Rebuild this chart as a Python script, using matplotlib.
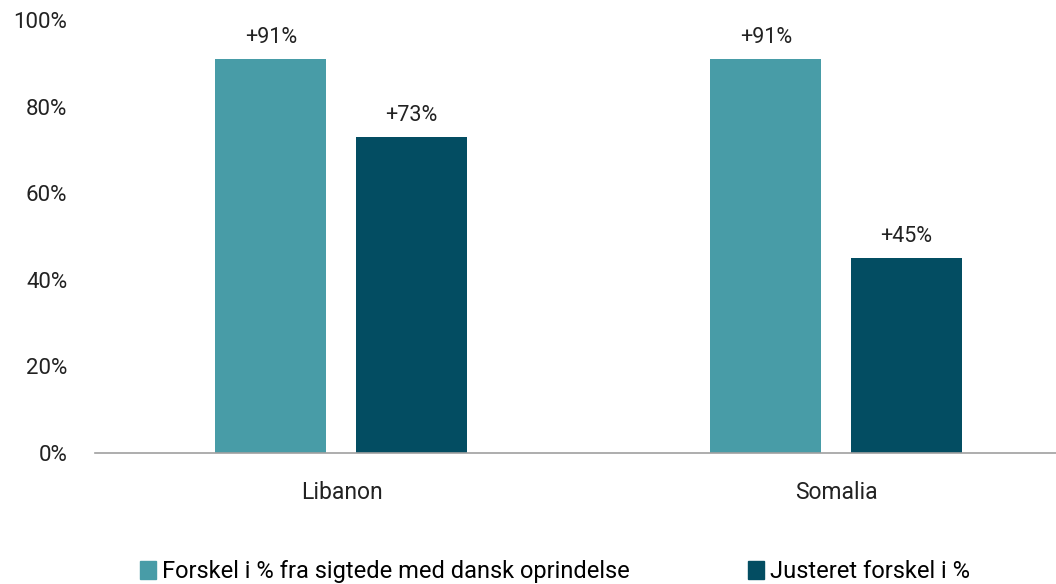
import matplotlib.pyplot as plt
from matplotlib.patches import Patch
import numpy as np

# data
countries = ['Libanon', 'Somalia']
forskel = [91, 91]
justeret = [73, 45]
series_names = ['Forskel i % fra sigtede med dansk oprindelse', 'Justeret forskel i %']
yticks = [0, 20, 40, 60, 80, 100]

light = '#489ca7'
dark = '#034d62'
narrow = ['Roboto', 'DejaVu Sans']

fig = plt.figure(figsize=(10.56, 5.84), dpi=100)
ax = fig.add_axes([0.09, 0.2243, 0.91, 0.7415])

x = np.arange(len(countries))
w = 0.224
b1 = ax.bar(x - 0.143, forskel, width=w, color=light)
b2 = ax.bar(x + 0.141, justeret, width=w, color=dark)

for bars, vals in [(b1, forskel), (b2, justeret)]:
    for r, v in zip(bars, vals):
        ax.annotate(f'+{v}%', (r.get_x() + r.get_width() / 2, v),
                    xytext=(0, 8), textcoords='offset points',
                    ha='center', va='bottom', fontsize=15.5, color='#222222',
                    family=narrow)

ax.set_xlim(-0.498, 1.443)
ax.set_ylim(0, 100)
ax.set_yticks(yticks)
ax.set_yticklabels([f'{t}%' for t in yticks], fontsize=16, color='#222222', family=narrow)
ax.set_xticks(x)
ax.set_xticklabels(countries, fontsize=16.5, color='#222222', family=narrow)
ax.tick_params(axis='both', length=0)
ax.tick_params(axis='x', pad=20)
ax.tick_params(axis='y', pad=20)
for s in ['top', 'right', 'left']:
    ax.spines[s].set_visible(False)
ax.spines['bottom'].set_color('#a0a0a0')
ax.spines['bottom'].set_linewidth(1.2)

handles = [Patch(color=light), Patch(color=dark)]
fig.legend(handles, series_names, loc='lower left', bbox_to_anchor=(0.112, -0.035),
           ncol=2, frameon=False, handlelength=0.7, handleheight=0.8,
           handletextpad=0.25, columnspacing=5.0,
           prop={'family': narrow, 'size': 17})

fig.savefig('out.png', dpi=100)
